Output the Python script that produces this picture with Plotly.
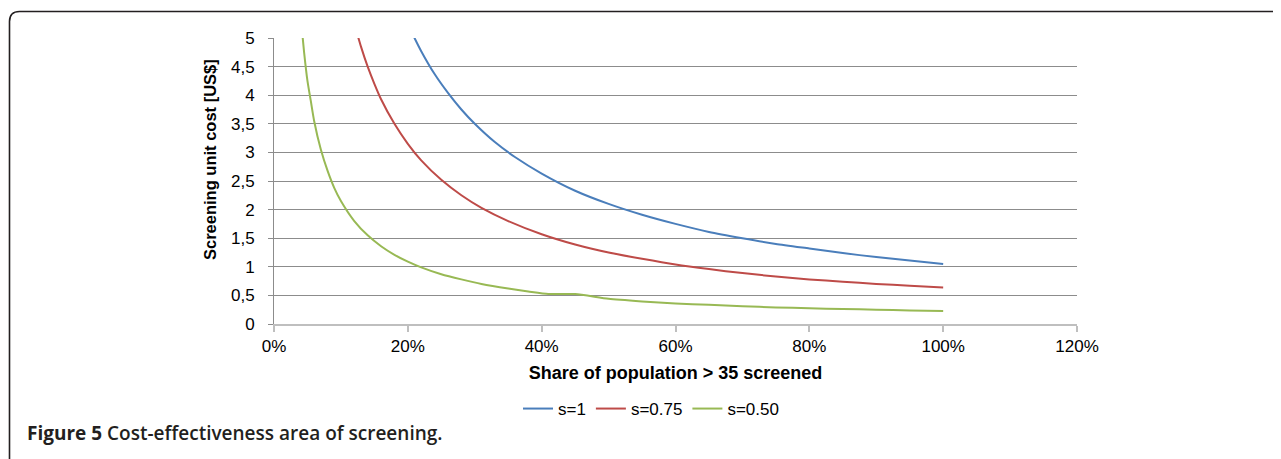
import plotly.graph_objects as go

# ---- data ----
x_s1 = [0.20, 0.21, 0.22, 0.24, 0.26, 0.28, 0.30, 0.33, 0.36, 0.40, 0.45, 0.50,
        0.55, 0.60, 0.65, 0.70, 0.75, 0.80, 0.85, 0.90, 0.95, 1.00]
y_s1 = [5.25, 5.0, 4.77, 4.37, 4.04, 3.75, 3.5, 3.18, 2.92, 2.63, 2.33, 2.1,
        1.91, 1.75, 1.61, 1.50, 1.40, 1.32, 1.24, 1.17, 1.11, 1.05]

x_s075 = [0.12, 0.13, 0.14, 0.15, 0.16, 0.18, 0.20, 0.22, 0.25, 0.28, 0.31, 0.35,
          0.40, 0.45, 0.50, 0.55, 0.60, 0.65, 0.70, 0.75, 0.80, 0.85, 0.90, 0.95, 1.00]
y_s075 = [5.25, 4.85, 4.5, 4.2, 3.93, 3.5, 3.15, 2.86, 2.52, 2.25, 2.03, 1.8,
          1.57, 1.39, 1.25, 1.14, 1.04, 0.96, 0.89, 0.83, 0.78, 0.74, 0.70, 0.67, 0.64]

x_s050 = [0.040, 0.045, 0.050, 0.055, 0.060, 0.070, 0.080, 0.090, 0.100, 0.120,
          0.140, 0.160, 0.180, 0.200, 0.220, 0.250, 0.280, 0.310, 0.350, 0.380,
          0.410, 0.450, 0.500, 0.550, 0.600, 0.650, 0.700, 0.750, 0.800, 0.850,
          0.900, 0.950, 1.000]
y_s050 = [5.35, 4.75, 4.25, 3.9, 3.55, 3.05, 2.68, 2.38, 2.15, 1.8,
          1.55, 1.36, 1.21, 1.09, 0.99, 0.87, 0.78, 0.70, 0.62, 0.57,
          0.525, 0.523, 0.44, 0.395, 0.36, 0.335, 0.31, 0.29, 0.275, 0.262,
          0.25, 0.238, 0.228]

series_names = ["s=1", "s=0.75", "s=0.50"]
series_colors = ["#4a7ebb", "#be4b48", "#98b954"]

x_tickvals = [0, 0.2, 0.4, 0.6, 0.8, 1.0, 1.2]
x_ticktext = ["0%", "20%", "40%", "60%", "80%", "100%", "120%"]
y_tickvals = [0, 0.5, 1, 1.5, 2, 2.5, 3, 3.5, 4, 4.5, 5]
y_ticktext = ["0", "0,5", "1", "1,5", "2", "2,5", "3", "3,5", "4", "4,5", "5"]

x_title = "Share of population > 35 screened"
y_title = "Screening unit cost [US$]"
caption_bold = "Figure 5"
caption_rest = " Cost-effectiveness area of screening."

# ---- figure geometry (page body has an 8px margin) ----
OFF = 8
W, H = 1281 - OFF, 459 - OFF
L, T, pw, ph = 266, 30, 803, 286
R, B = W - L - pw, H - T - ph


def ref2paper(px, py):
    """reference-picture pixel -> paper coordinates"""
    fx, fy = px - OFF, py - OFF
    return (fx - L) / pw, (T + ph - fy) / ph


fig = go.Figure()
for xs, ys, name, col in zip([x_s1, x_s075, x_s050], [y_s1, y_s075, y_s050],
                             series_names, series_colors):
    fig.add_trace(go.Scatter(x=xs, y=ys, mode="lines", name=name,
                             line=dict(color=col, width=2, shape="spline", smoothing=0.6),
                             hoverinfo="skip"))

font_main = "Liberation Sans, Arial, sans-serif"

lx, ly = ref2paper(651, 409)
fig.update_layout(
    width=W, height=H,
    margin=dict(l=L, r=R, t=T, b=B, pad=0),
    paper_bgcolor="white", plot_bgcolor="white",
    font=dict(family=font_main, size=16, color="#000000"),
    showlegend=True,
    legend=dict(orientation="h", x=lx, xanchor="center", y=ly, yanchor="middle",
                font=dict(size=17, family=font_main), bgcolor="rgba(0,0,0,0)",
                itemwidth=30, tracegroupgap=0),
)

fig.update_xaxes(range=[0, 1.2], tickvals=x_tickvals, ticktext=x_ticktext,
                 showgrid=False, zeroline=False,
                 showline=True, linecolor="#bfbfbf", linewidth=1.5,
                 ticks="outside", ticklen=6, tickcolor="#bfbfbf", tickwidth=1.5,
                 tickfont=dict(size=17, family=font_main),
                 title=dict(text="<b>" + x_title + "</b>", font=dict(size=18, family=font_main),
                            standoff=11),
                 fixedrange=True)
fig.update_yaxes(range=[0, 5], tickvals=y_tickvals, ticktext=y_ticktext,
                 showgrid=True, gridcolor="#8c8c8c", gridwidth=1, zeroline=False,
                 showline=True, linecolor="#8c8c8c", linewidth=1,
                 ticks="outside", ticklen=5, tickcolor="#8c8c8c",
                 ticklabelstandoff=10,
                 tickfont=dict(size=17, family=font_main),
                 fixedrange=True)

# y axis title (placed as in the reference, slightly above the plot centre)
tx, ty = ref2paper(210, 160)
fig.add_annotation(x=tx, y=ty, xref="paper", yref="paper", xanchor="center", yanchor="middle",
                   showarrow=False, textangle=-90, text="<b>" + y_title + "</b>",
                   font=dict(size=16.5, family=font_main, color="#000000"))

# rounded frame around the figure (extends past right and bottom edges)
x0, y0 = ref2paper(9.5, 11.5)
x1, _ = ref2paper(1300, 11.5)
_, yb = ref2paper(9.5, 480)
rx = 10 / pw
ry = 10 / ph
path = (f"M {x0},{yb} L {x0},{y0 - ry} Q {x0},{y0} {x0 + rx},{y0} L {x1},{y0}")
fig.add_shape(type="path", path=path, xref="paper", yref="paper",
              line=dict(color="#231f20", width=1.6), layer="above")

cx, cy = ref2paper(25, 433)
fig.add_annotation(x=cx, y=cy, xref="paper", yref="paper", xanchor="left", yanchor="middle",
                   showarrow=False, align="left",
                   text="<b>" + caption_bold + "</b>" + caption_rest,
                   font=dict(family="Open Sans, Noto Sans, sans-serif", size=19,
                             color="#231f20", weight=600))

fig.write_html("out.html")
